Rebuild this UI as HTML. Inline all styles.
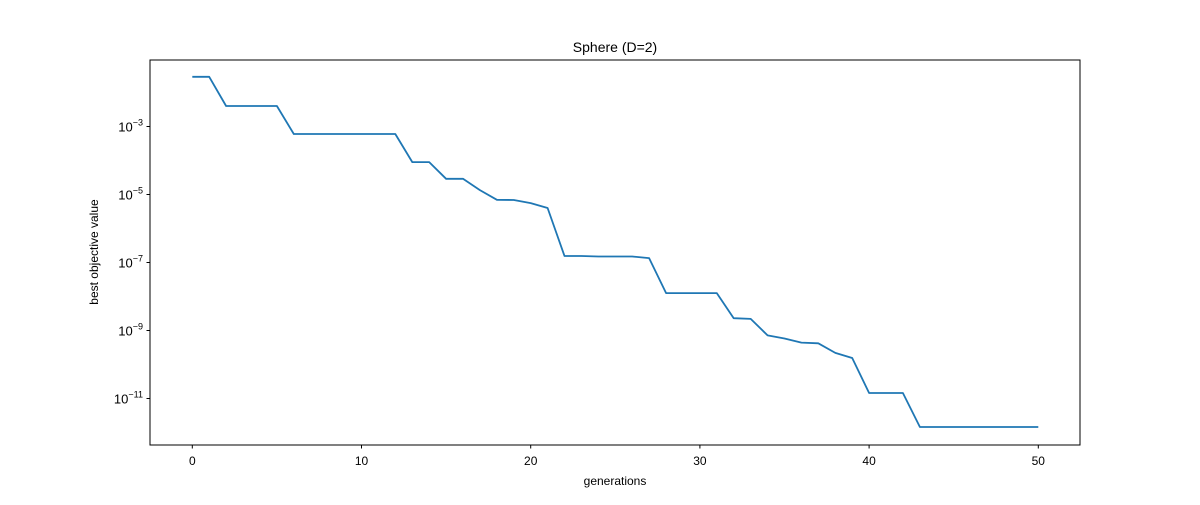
<!DOCTYPE html>
<html><head><meta charset="utf-8"><style>
body{margin:0;background:#fff;}
svg text{font-family:"Liberation Sans",Arial,sans-serif;fill:#000;}
</style></head><body>
<svg id="chart" width="1200" height="500" viewBox="0 0 1200 500">
<rect width="1200" height="500" fill="#fff"/>
<text x="615" y="52" font-size="14" text-anchor="middle">Sphere (D=2)</text>
<g id="xt"></g><g id="yt"></g>
<path id="line" fill="none" stroke="#1f77b4" stroke-width="1.8" stroke-linejoin="round"/>
<rect x="150" y="60" width="930" height="385" fill="none" stroke="#000" stroke-width="1"/>
<text x="615" y="485" font-size="12" text-anchor="middle">generations</text>
<text transform="translate(98,252) rotate(-90)" font-size="12" text-anchor="middle">best objective value</text>
</svg>
<script>
const generations=[0,1,2,3,4,5,6,7,8,9,10,11,12,13,14,15,16,17,18,19,20,21,22,23,24,25,26,27,28,29,30,31,32,33,34,35,36,37,38,39,40,41,42,43,44,45,46,47,48,49,50];
const bestValues=[2.9e-2,2.9e-2,4e-3,4e-3,4e-3,4e-3,6e-4,6e-4,6e-4,6e-4,6e-4,6e-4,6e-4,9e-5,9e-5,2.9e-5,2.9e-5,1.35e-5,7e-6,6.9e-6,5.6e-6,4e-6,1.55e-7,1.55e-7,1.5e-7,1.5e-7,1.5e-7,1.35e-7,1.26e-8,1.26e-8,1.26e-8,1.26e-8,2.3e-9,2.2e-9,7.2e-10,5.8e-10,4.4e-10,4.2e-10,2.2e-10,1.55e-10,1.45e-11,1.45e-11,1.45e-11,1.45e-12,1.45e-12,1.45e-12,1.45e-12,1.45e-12,1.45e-12,1.45e-12,1.45e-12];
const xTicks=[0,10,20,30,40,50];
const yTickExps=[-3,-5,-7,-9,-11];
const NS="http://www.w3.org/2000/svg";
function xs(v){return 192.3+v*16.92;}
function ys(v){return 126.5-(Math.log10(v)+3)*34;}
const xt=document.getElementById('xt'),yt=document.getElementById('yt');
xTicks.forEach(t=>{
 const l=document.createElementNS(NS,'line');
 
 
 l.setAttribute('x1',xs(t));l.setAttribute('x2',xs(t));l.setAttribute('y1',445);l.setAttribute('y2',448.5);l.setAttribute('stroke','#000');
 xt.appendChild(l);
 const tx=document.createElementNS(NS,'text');
 
 
 tx.setAttribute('x',xs(t));tx.setAttribute('y',465);tx.setAttribute('font-size','12');tx.setAttribute('text-anchor','middle');
 tx.textContent=t;xt.appendChild(tx);
});
yTickExps.forEach(e=>{
 const y=ys(Math.pow(10,e));
 const l=document.createElementNS(NS,'line');
 
 
 l.setAttribute('x1',146.5);l.setAttribute('x2',150);l.setAttribute('y1',y);l.setAttribute('y2',y);l.setAttribute('stroke','#000');
 yt.appendChild(l);
 const tx=document.createElementNS(NS,'text');
 
 
 tx.setAttribute('x',143);tx.setAttribute('y',y+5);tx.setAttribute('font-size','13');tx.setAttribute('text-anchor','end');
 tx.innerHTML='10<tspan dy="-6" font-size="9">\u2212'+(-e)+'</tspan>';
 yt.appendChild(tx);
});
document.getElementById('line').setAttribute('d',generations.map((g,i)=>(i?'L':'M')+xs(g).toFixed(1)+','+ys(bestValues[i]).toFixed(1)).join(''));
</script>
</body></html>
